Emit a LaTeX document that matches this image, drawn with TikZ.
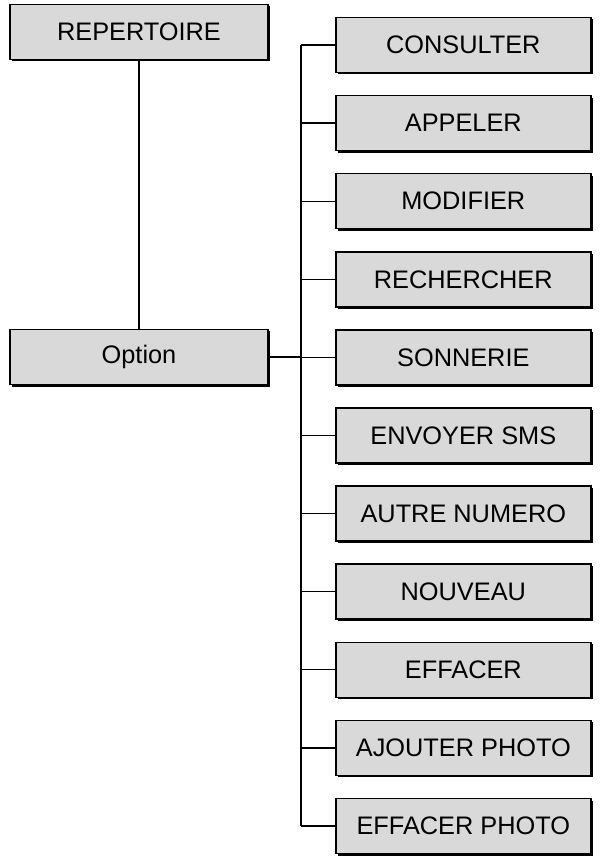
\documentclass[tikz,border=0pt]{standalone}
\usepackage{fontspec}
\setmainfont{Liberation Sans}
\usetikzlibrary{shadows}
\tikzset{
  menubox/.style={draw, line width=1.2pt, fill=black!15, minimum width=255*0.75pt,
    minimum height=55*0.75pt, inner sep=0pt, font=\fontsize{19}{22}\selectfont,
    drop shadow={shadow xshift=1.5pt, shadow yshift=-1.5pt, fill=black, opacity=1}},
  branch/.style={line width=1pt}
}
\begin{document}
\begin{tikzpicture}[x=0.75pt,y=-0.75pt]
\useasboundingbox (0,0) rectangle (601,862);
\node[menubox, minimum width=258*0.75pt] (rep) at (139,32) {REPERTOIRE};
\node[menubox, minimum width=258*0.75pt] (opt) at (139,357) {Option};
\coordinate (bus) at (301,357);
\draw[branch] (rep) -- (opt);
\draw[branch] (opt) -- (bus);
\foreach \txt [count=\i] in {CONSULTER, APPELER, MODIFIER, RECHERCHER, SONNERIE,
  ENVOYER SMS, AUTRE NUMERO, NOUVEAU, EFFACER, AJOUTER PHOTO, EFFACER PHOTO}{
  \node[menubox, anchor=west] (m\i) at (335,{45+(\i-1)*78.1}) {\txt};
  \draw[branch] (m\i.west) -- ++(-34,0) coordinate (t\i);
}
\draw[branch] (t1) -- (t11);
\end{tikzpicture}
\end{document}
